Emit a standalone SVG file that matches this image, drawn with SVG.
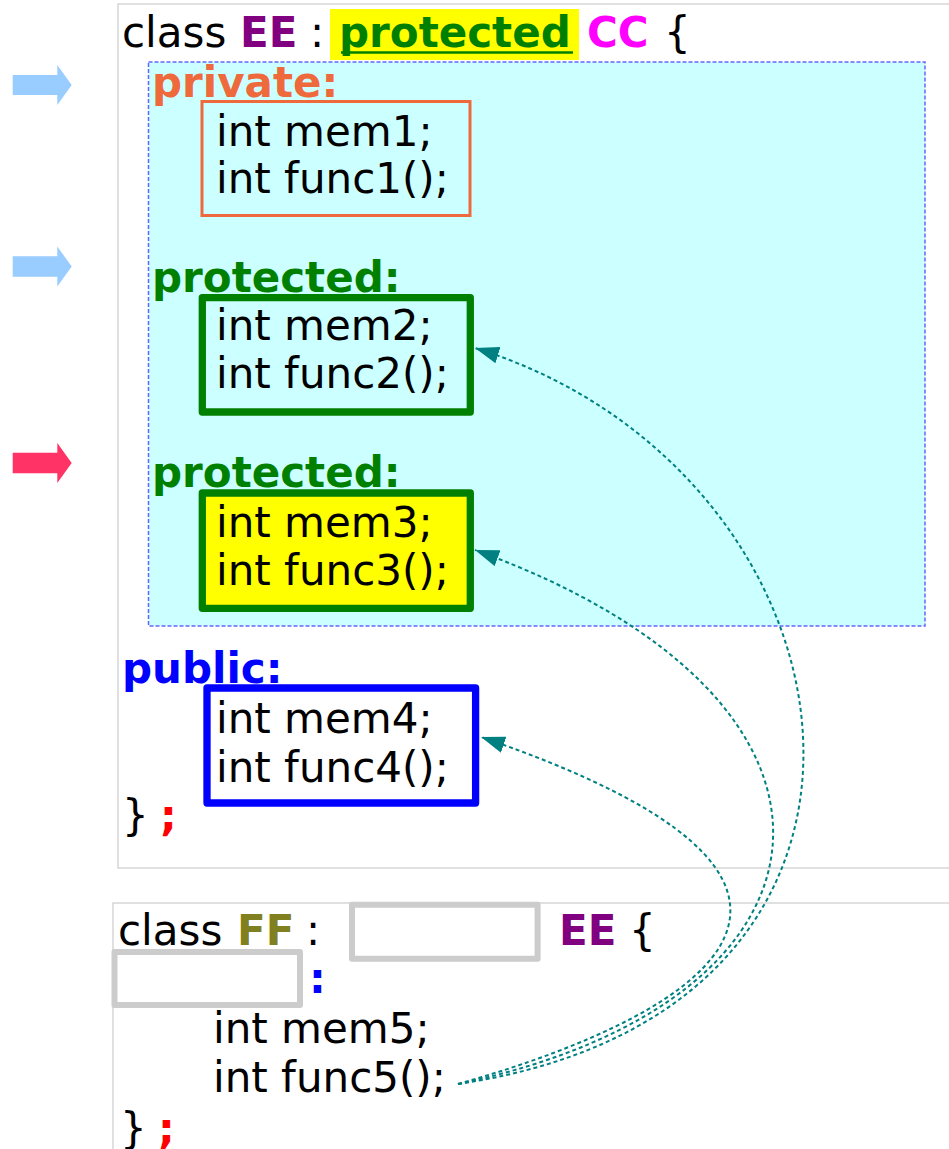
<svg xmlns="http://www.w3.org/2000/svg" width="949" height="1149" viewBox="0 0 949 1149">
  <style>
    text { font-family: "DejaVu Sans", "Liberation Sans", sans-serif; font-size: 42px; fill: #000; }
    .b { font-weight: bold; }
    .purple { fill: #800080; }
    .green { fill: #008000; }
    .magenta { fill: #ff00ff; }
    .coral { fill: #ee6a3c; }
    .blue { fill: #0000ff; }
    .red { fill: #ff0000; }
    .olive { fill: #808020; }
    .panel { fill: #ffffff; stroke: #cccccc; stroke-width: 1.2; }
    .member { fill: none; stroke-width: 7.3; stroke-linejoin: round; }
    .blank { fill: #ffffff; stroke: #cccccc; stroke-width: 6; stroke-linejoin: round; }
    .link { fill: none; stroke: #008080; stroke-width: 2; stroke-dasharray: 4 3; }
  </style>
  <defs>
    <marker id="tip" markerUnits="userSpaceOnUse" viewBox="0 0 24 17" refX="24" refY="8.5" markerWidth="24" markerHeight="17" orient="auto">
      <path d="M0,0 L24,8.5 L0,17 Z" fill="#008080"/>
    </marker>
  </defs>

  <!-- class EE panel -->
  <g id="class-ee">
    <rect class="panel" x="118" y="4" width="840" height="864"/>
    <rect x="330" y="9" width="249" height="51" fill="#ffff00"/>
    <text y="46.5"><tspan x="122">class</tspan><tspan x="240" class="b purple">EE</tspan><tspan x="310">:</tspan><tspan x="339" class="b green">protected</tspan><tspan x="587" class="b magenta">CC</tspan><tspan x="664">{</tspan></text>
    <line x1="341" y1="52.5" x2="573" y2="52.5" stroke="#008000" stroke-width="2.6"/>
    <rect x="148.5" y="62" width="776.5" height="564" fill="#ccffff" stroke="#6666ff" stroke-width="1.5" stroke-dasharray="4 2"/>
  </g>

  <!-- access markers on the left -->
  <g id="markers">
    <path d="M12.7,75 L57.3,75 L57.3,65 L71.7,85 L57.3,105 L57.3,95 L12.7,95 Z" fill="#99ccff"/>
    <path d="M12.7,256.3 L57.3,256.3 L57.3,246.5 L71.7,266.5 L57.3,286.5 L57.3,276.7 L12.7,276.7 Z" fill="#99ccff"/>
    <path d="M12.7,452.7 L57.3,452.7 L57.3,443 L71.7,463 L57.3,483 L57.3,473.3 L12.7,473.3 Z" fill="#ff3366"/>
  </g>

  <g id="private-section">
    <text x="152" y="96.5" class="b coral">private:</text>
    <rect x="202" y="101.5" width="268" height="114" fill="none" stroke="#ee6a3c" stroke-width="3"/>
    <text x="216" y="146">int mem1;</text>
    <text x="216" y="193">int func1();</text>
  </g>

  <g id="protected-section">
    <text x="152" y="291.7" class="b green">protected:</text>
    <rect class="member" x="202.3" y="297.7" width="268" height="114.3" stroke="#008000"/>
    <text x="216" y="340">int mem2;</text>
    <text x="216" y="388">int func2();</text>
  </g>

  <g id="inherited-section">
    <text x="152" y="487" class="b green">protected:</text>
    <rect class="member" x="202.3" y="493" width="268" height="115.3" stroke="#008000" style="fill:#ffff00"/>
    <text x="216" y="536.5">int mem3;</text>
    <text x="216" y="585">int func3();</text>
  </g>

  <g id="public-section">
    <text x="122" y="683" class="b blue">public:</text>
    <rect class="member" x="207" y="688" width="268.6" height="115" stroke="#0000ff"/>
    <text x="216" y="733">int mem4;</text>
    <text x="216" y="781.5">int func4();</text>
    <text x="122" y="830">}</text>
    <text x="160" y="830" class="b red">;</text>
  </g>

  <!-- class FF panel -->
  <g id="class-ff">
    <rect class="panel" x="113" y="903" width="845" height="260"/>
    <text y="945"><tspan x="118">class</tspan><tspan x="237" class="b olive">FF</tspan><tspan x="306">:</tspan></text>
    <rect class="blank" x="352" y="904.7" width="185.6" height="54"/>
    <text x="559" y="945" class="b purple">EE</text>
    <text x="629" y="945">{</text>
    <rect class="blank" x="114.5" y="952" width="185.5" height="53"/>
    <text x="309" y="993" class="b blue">:</text>
    <text x="213" y="1043">int mem5;</text>
    <text x="213" y="1092">int func5();</text>
    <text x="120" y="1143">}</text>
    <text x="158" y="1143" class="b red">;</text>
  </g>

  <!-- access paths from func5 -->
  <g id="connectors">
    <path class="link" d="M458,1084 C960,1010 870,470 475,348" marker-end="url(#tip)"/>
    <path class="link" d="M458,1084 C860,1000 890,700 475,550" marker-end="url(#tip)"/>
    <path class="link" d="M458,1084 C720,1010 900,880 481,737" marker-end="url(#tip)"/>
  </g>
</svg>
